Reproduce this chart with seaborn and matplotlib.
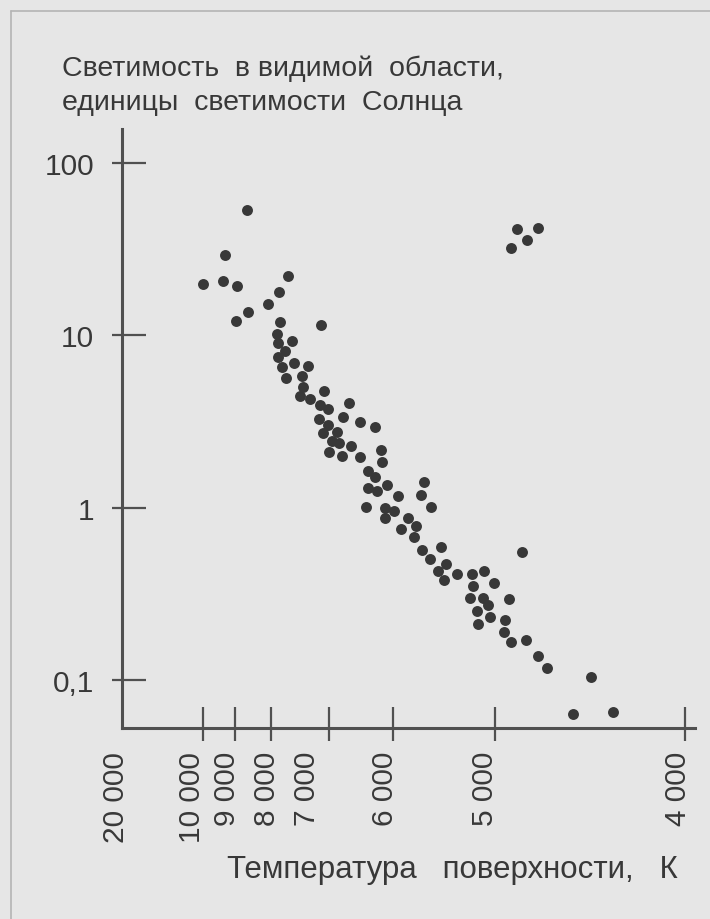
import numpy as np
import pandas as pd
import matplotlib
matplotlib.use("Agg")
import matplotlib.pyplot as plt
import seaborn as sns
from matplotlib import transforms as mtransforms
from matplotlib.ticker import FixedLocator, NullFormatter

# ---------------- data ----------------
temperature = [
    8675, 9312, 10060, 9366, 8936, 7712, 7862, 8075, 8625, 8972,
    7845, 7138, 7902, 7638, 7874, 7759, 7874, 7598, 7367, 7816,
    7741, 7471, 7443, 7086, 7500, 7328, 7155, 6683, 7023, 7167,
    6786, 6516, 7012, 6281, 6870, 7098, 6958, 6844, 6661, 6992,
    6802, 6516, 6188, 6177, 6395, 6281, 6098, 6386, 6242, 5954,
    5696, 5725, 5623, 6414, 6125, 5990, 6125, 5850, 5770, 5922,
    5794, 5529, 5719, 5637, 5483, 4856, 5556, 5370, 5221, 5105,
    5500, 5219, 5007, 5248, 5121, 4925, 5066, 5179, 5049, 4949,
    5167, 4951, 4916, 4838, 4772, 4728, 4496, 4591, 4381, 4886,
    4775, 4830, 4916,
]
luminosity = [
    53.3, 29.2, 19.7, 20.6, 19.2, 21.9, 17.8, 15.2, 13.6, 12.1,
    11.9, 11.4, 10.2, 9.29, 8.93, 8.08, 7.46, 6.85, 6.64, 6.55,
    5.67, 5.76, 4.98, 4.72, 4.41, 4.26, 3.94, 4.06, 3.72, 3.25,
    3.33, 3.15, 3.00, 2.93, 2.75, 2.69, 2.42, 2.38, 2.28, 2.10,
    1.99, 1.95, 2.16, 1.84, 1.62, 1.50, 1.35, 1.30, 1.24, 1.17,
    1.40, 1.18, 1.01, 1.01, 1.00, 0.95, 0.867, 0.875, 0.781, 0.748,
    0.672, 0.588, 0.569, 0.503, 0.469, 0.550, 0.427, 0.414, 0.410, 0.427,
    0.382, 0.349, 0.364, 0.298, 0.300, 0.294, 0.273, 0.251, 0.231, 0.222,
    0.210, 0.191, 0.165, 0.171, 0.137, 0.118, 0.1045, 0.0635, 0.065, 41.2,
    41.6, 35.7, 31.9,
]

x_tick_values = [20000, 10000, 9000, 8000, 7000, 6000, 5000, 4000]
x_tick_labels = ["20 000", "10 000", "9 000", "8 000", "7 000", "6 000", "5 000", "4 000"]
y_tick_values = [0.1, 1, 10, 100]
y_tick_labels = ["0,1", "1", "10", "100"]
y_title_lines = ["Светимость  в видимой  области,", "единицы  светимости  Солнца"]
x_title = "Температура   поверхности,   К"

# ---------------- the hand-drawn temperature axis ----------------
# knots of the (non-uniform) temperature scale: temperature -> relative position
scale_T = np.array([2000, 4000, 5000, 6000, 7000, 8000, 9000, 10000, 20000, 40000], float)
scale_pos = np.array([-943, -563, -373, -271, -207, -149, -113, -81, 0, 162], float)


def forward(t):
    t = np.asarray(t, float)
    return np.interp(t, scale_T, scale_pos)


def inverse(p):
    p = np.asarray(p, float)
    return np.interp(p, scale_pos, scale_T)


# ---------------- style ----------------
sns.set_style("ticks")
plt.rcParams["font.family"] = ["Liberation Sans", "DejaVu Sans"]
ink = "#383838"
axis_col = "#505050"
bg = "#e6e6e6"

W, H = 710, 920
fig = plt.figure(figsize=(W / 100, H / 100), dpi=100)
fig.patch.set_facecolor(bg)

ax_left, ax_right, ax_top, ax_bottom = 122, 695, 130, 729
ax = fig.add_axes([ax_left / W, 1 - ax_bottom / H,
                   (ax_right - ax_left) / W, (ax_bottom - ax_top) / H])
ax.set_facecolor("none")

df = pd.DataFrame({"T": temperature, "L": luminosity})
sns.scatterplot(data=df, x="T", y="L", ax=ax, s=62, color=ink,
                linewidth=0, legend=False, zorder=3, clip_on=False)

ax.set_xscale("function", functions=(forward, inverse))
ax.set_yscale("log")
ax.set_xlim(20000, 3947)
ax.set_ylim(0.0527, 156.4)

for side in ("top", "right"):
    ax.spines[side].set_visible(False)
for side in ("left", "bottom"):
    ax.spines[side].set_color(axis_col)
    ax.spines[side].set_linewidth(2.2)

# y ticks: inward part (major) + outward part (minor at same places)
ax.yaxis.remove_overlapping_locs = False
ax.xaxis.remove_overlapping_locs = False
ax.yaxis.set_major_locator(FixedLocator(y_tick_values))
ax.yaxis.set_minor_locator(FixedLocator(y_tick_values))
ax.set_yticklabels(y_tick_labels)
ax.yaxis.set_minor_formatter(NullFormatter())
ax.tick_params(axis="y", which="major", direction="in", length=17.3, width=1.6,
               color=axis_col, labelsize=21.5, labelcolor=ink, pad=20)
ax.tick_params(axis="y", which="minor", direction="out", length=7.2, width=1.6,
               color=axis_col)

x_marked = x_tick_values[1:]
ax.xaxis.set_major_locator(FixedLocator(x_marked))
ax.xaxis.set_minor_locator(FixedLocator(x_marked))
ax.xaxis.set_major_formatter(NullFormatter())
ax.xaxis.set_minor_formatter(NullFormatter())
ax.tick_params(axis="x", which="major", direction="in", length=15.1, width=1.6,
               color=axis_col)
ax.tick_params(axis="x", which="minor", direction="out", length=9.4, width=1.6,
               color=axis_col)
ax.set_xlabel("")
ax.set_ylabel("")

# x tick labels (rotated), slightly left of their marks as in the drawing
label_dx = [-6, -11, -8, -4, -22, -8, -10, -7]
blend = mtransforms.blended_transform_factory(ax.transData, ax.transAxes)
for val, txt, dx in zip(x_tick_values, x_tick_labels, label_dx):
    tr = mtransforms.offset_copy(blend, fig=fig, x=dx, y=-23, units="dots")
    ax.text(val, 0, txt, transform=tr, rotation=90, ha="center", va="top",
            fontsize=21.5, color=ink)

# titles
fig.text(62 / W, 1 - 76 / H, y_title_lines[0], ha="left", va="baseline",
         fontsize=20.5, color=ink)
fig.text(62 / W, 1 - 110 / H, y_title_lines[1], ha="left", va="baseline",
         fontsize=20.5, color=ink)
fig.text(678 / W, 1 - 878 / H, x_title, ha="right", va="baseline",
         fontsize=22.5, color=ink)

# faint frame of the book figure
fig.add_artist(plt.Line2D([11 / W, 1], [1 - 12 / H, 1 - 12 / H], transform=fig.transFigure,
                          color="#b4b4b4", lw=1.2))
fig.add_artist(plt.Line2D([11 / W, 11 / W], [0, 1 - 12 / H], transform=fig.transFigure,
                          color="#b4b4b4", lw=1.2))

fig.savefig("out.png", dpi=100, facecolor=bg)
